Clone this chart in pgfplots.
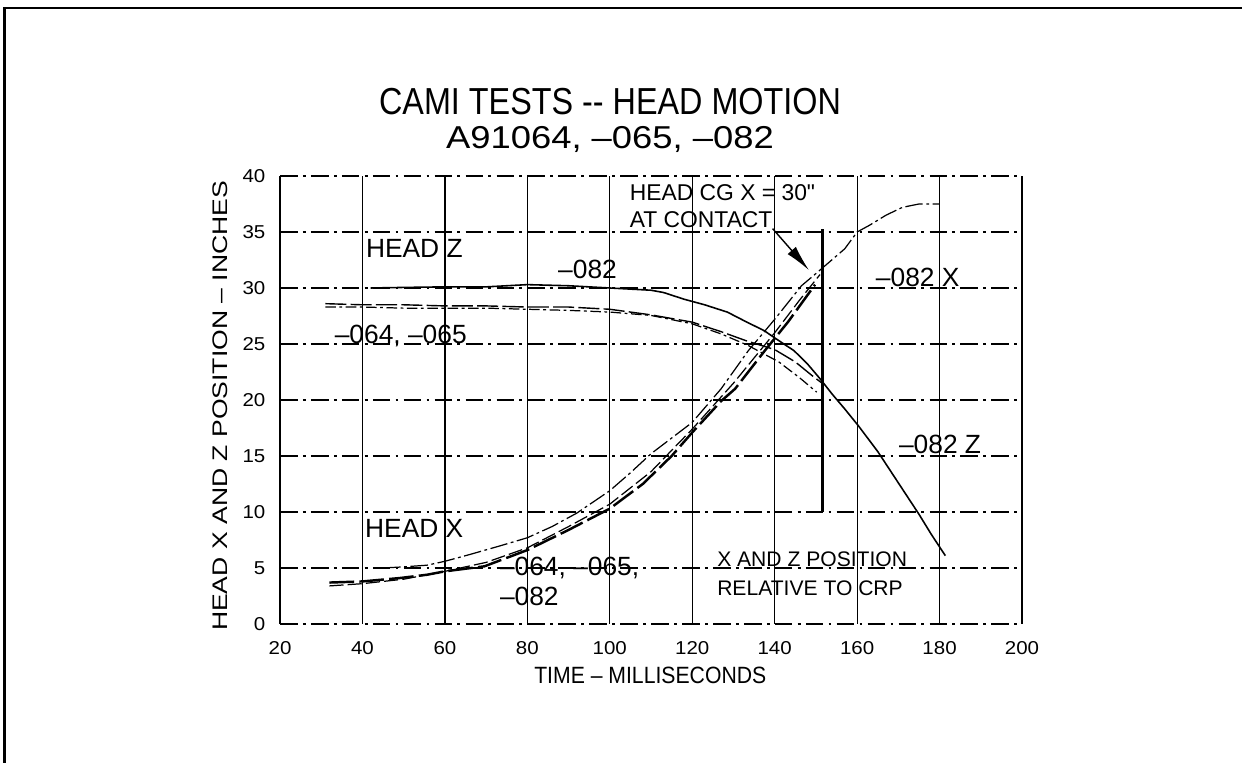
\documentclass[border=0pt]{standalone}
\usepackage{fontspec}
\setmainfont{Liberation Sans}
\newfontfamily\titlefont[FakeStretch=0.86]{Liberation Sans}
\newfontfamily\subfont[FakeStretch=1.15]{Liberation Sans}
\newfontfamily\tickfont[FakeStretch=1.1]{Liberation Sans}
\newfontfamily\xlabfont[FakeStretch=0.9]{Liberation Sans}
\newfontfamily\ylabfont[FakeStretch=1.26]{Liberation Sans}
\newfontfamily\plainfont[Ligatures=TeXOff]{Liberation Sans}
\usepackage{pgfplots}
\pgfplotsset{compat=1.18}
\usetikzlibrary{arrows.meta}
\begin{document}
\begin{tikzpicture}
\path[use as bounding box] (0,0) rectangle (124.2mm,76.3mm);
\draw[line width=0.28mm] (0.45mm,0) -- (0.45mm,75.5mm) -- (124.2mm,75.5mm);
\node[font=\titlefont\fontsize{10.7}{12}\selectfont] at (61.0mm,66.1mm) {CAMI TESTS -{}- HEAD MOTION};
\node[font=\subfont\fontsize{9}{10}\selectfont] at (61.0mm,62.4mm) {A91064, –065, –082};
\begin{axis}[
  at={(28mm,13.9mm)}, anchor=south west,
  scale only axis, width=74.2mm, height=44.8mm,
  xmin=20, xmax=200, ymin=0, ymax=40,
  xtick={20,40,...,200}, ytick={0,5,...,40},
  axis line style={draw=none},
  major tick length=0pt,
  grid=major,
  x grid style={black, line width=0.35pt},
  y grid style={black, line width=0.3pt, dash pattern=on 5pt off 1.5pt on 0.8pt off 1.5pt},
  /pgf/number format/assume math mode=true,
  xticklabel style={font=\tickfont\fontsize{5.3}{6}\selectfont, inner sep=0pt, anchor=north, yshift=-1.7mm},
  yticklabel style={font=\tickfont\fontsize{5.3}{6}\selectfont, inner sep=0pt, anchor=east, xshift=-1.4mm},
  every axis x label/.style={at={(axis description cs:0.499,-0.114)}, anchor=center},
  every axis y label/.style={at={(axis description cs:-0.0809,0.487)}, rotate=90, anchor=center},
  xlabel={\xlabfont\fontsize{6.7}{8}\selectfont TIME – MILLISECONDS},
  ylabel={\ylabfont\fontsize{6}{7}\selectfont HEAD X AND Z POSITION – INCHES},
  clip=false,
]
% -082 Z
\addplot[black, line width=0.45pt, mark=none] coordinates {
(42,30.0) (50,30.05) (60,30.1) (70,30.1) (75,30.2) (80,30.3) (90,30.2) (100,30.0) (105,29.9) (110,29.8) (113,29.6) (118,29.0) (123,28.5) (128.5,27.85) (133,27.0) (137.4,26.2) (141,25.3) (144.7,24.4) (148,23.2) (151,21.9) (154,20.5) (157,19.2) (160.3,17.7) (165,15.4) (170,12.6) (175,9.8) (178,8.0) (181.4,6.1)};
% -064 Z
\addplot[black, line width=0.4pt, dash pattern=on 6pt off 1.2pt, mark=none] coordinates {
(31,28.6) (40,28.5) (50,28.5) (60,28.4) (70,28.4) (80,28.3) (90,28.3) (100,28.1) (110,27.6) (120,26.95) (127,26.1) (133,25.3) (140,24.5) (145,23.4) (149,22.2) (151.5,21.5)};
% -065 Z
\addplot[black, line width=0.35pt, dash pattern=on 3pt off 1pt on 0.8pt off 1pt, mark=none] coordinates {
(31,28.3) (40,28.3) (50,28.2) (60,28.2) (70,28.2) (80,28.1) (90,28.0) (100,27.85) (110,27.55) (120,26.8) (127,25.9) (133.4,24.9) (141,23.4) (146,22.0) (150.2,20.7)};
% -082 X
\addplot[black, line width=0.35pt, dash pattern=on 5pt off 1pt on 0.8pt off 1pt, mark=none] coordinates {
(45,5.0) (50,5.1) (55.7,5.25) (60,5.6) (66,6.2) (73.6,7.0) (80,7.7) (86,8.7) (92,9.9) (100,11.9) (105,13.5) (110,15.2) (115,16.6) (120,18.0) (127,21.0) (133.6,24.4) (140,27.2) (146.5,30.2) (151,31.6) (157,33.5) (160,35.0) (163,35.6) (167,36.5) (171,37.2) (175,37.5) (180,37.5)};
% -064 X
\addplot[black, line width=0.7pt, dash pattern=on 7pt off 1.5pt, mark=none] coordinates {
(32,3.7) (40,3.8) (49,4.1) (55.7,4.4) (60,4.7) (69.6,5.15) (80,6.6) (90,8.4) (100,10.3) (108,12.5) (115,15.0) (120,17.1) (127,19.9) (130.4,21.0) (137.6,24.4) (143.3,27.0) (149.8,30.3)};
% -065 X
\addplot[black, line width=0.35pt, dash pattern=on 4pt off 1.2pt, mark=none] coordinates {
(32,3.4) (40,3.6) (50,4.0) (60,4.7) (70,5.5) (80,6.8) (90,8.7) (100,10.7) (110,13.6) (120,17.4) (130,21.5) (140,26.0) (146,28.9) (151,31.2)};
% contact line
\addplot[black, line width=0.9pt, mark=none] coordinates {(151.5,10) (151.5,35.3)};
\draw[black, line width=0.4pt, -{Latex[length=2.6mm, width=1.1mm]}] (axis cs:139.5,35.3) -- (axis cs:148.3,31.6);
% annotations
\node[font=\fontsize{7.5}{9}\selectfont, anchor=west, inner sep=0pt] at (axis cs:40.7,33.5) {HEAD Z};
\node[font=\fontsize{7.5}{9}\selectfont, inner sep=0pt] at (axis cs:94.6,31.7) {–082};
\node[font=\fontsize{7.5}{9}\selectfont, inner sep=0pt] at (axis cs:49.3,25.7) {–064, –065};
\node[font=\fontsize{7.5}{9}\selectfont, anchor=west, inner sep=0pt] at (axis cs:40.5,8.5) {HEAD X};
\node[font=\fontsize{7.5}{9}\selectfont, anchor=west, inner sep=0pt] at (axis cs:73.2,5.0) {–064, –065,};
\node[font=\fontsize{7.5}{9}\selectfont, anchor=west, inner sep=0pt] at (axis cs:73.2,2.45) {–082};
\node[font=\fontsize{6}{7}\selectfont, anchor=west, inner sep=0pt] at (axis cs:125.9,5.75) {X AND Z POSITION};
\node[font=\fontsize{6}{7}\selectfont, anchor=west, inner sep=0pt] at (axis cs:125.9,3.2) {RELATIVE TO CRP};
\node[font=\fontsize{7.5}{9}\selectfont, anchor=west, inner sep=0pt] at (axis cs:164.4,30.9) {–082 X};
\node[font=\fontsize{7.5}{9}\selectfont, anchor=west, inner sep=0pt] at (axis cs:170,16.0) {–082 Z};
\node[font=\plainfont\fontsize{6.5}{8}\selectfont, anchor=west, inner sep=0pt] at (axis cs:104.7,38.5) {HEAD CG X = 30"};
\node[font=\fontsize{6.5}{8}\selectfont, anchor=west, inner sep=0pt] at (axis cs:104.7,36.1) {AT CONTACT};
\end{axis}
\end{tikzpicture}
\end{document}
